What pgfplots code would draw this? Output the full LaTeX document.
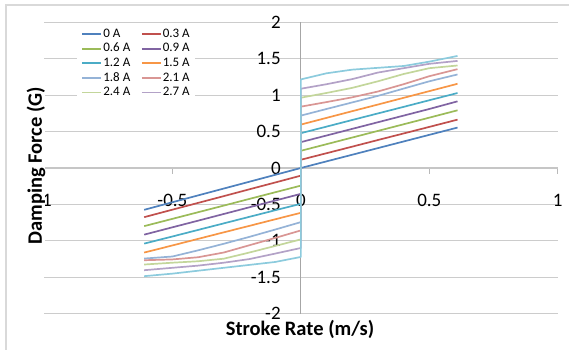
\documentclass[border=0pt]{standalone}
\usepackage{fontspec}
\setmainfont{Carlito}
\usepackage{pgfplots}
\pgfplotsset{compat=1.18}
\definecolor{s1}{HTML}{4F81BD}
\definecolor{s2}{HTML}{C0504D}
\definecolor{s3}{HTML}{9BBB59}
\definecolor{s4}{HTML}{8064A2}
\definecolor{s5}{HTML}{4BACC6}
\definecolor{s6}{HTML}{F79646}
\definecolor{s7}{HTML}{95B3D7}
\definecolor{s8}{HTML}{D99694}
\definecolor{s9}{HTML}{C3D69B}
\definecolor{s10}{HTML}{B3A2C7}
\definecolor{s11}{HTML}{8CCBDD}
\begin{document}
\begin{tikzpicture}
\path[use as bounding box] (0bp,0bp) rectangle (569bp,350bp);
\draw[color=gray!30, line width=1.3bp] (6bp,0bp) -- (6bp,345bp) -- (569bp,345bp);
\begin{axis}[
  at={(44bp,36.3bp)}, anchor=south west,
  scale only axis, width=513.7bp, height=291.4bp,
  xmin=-1, xmax=1, ymin=-2, ymax=2,
  axis lines=middle,
  x axis line style={-, draw=gray!45, line width=1.2bp},
  y axis line style={-, draw=gray!70, line width=1.2bp},
  hide obscured x ticks=false, hide obscured y ticks=false,
  xtick={-1,-0.5,0,0.5,1},
  xticklabels={-1,-0.5,0,0.5,1},
  ytick={-2,-1.5,-1,-0.5,0,0.5,1,1.5,2},
  yticklabels={-2,-1.5,-1,-0.5,0,0.5,1,1.5,2},
  tick align=outside, major tick length=6bp,
  xtick style={draw=gray!55, line width=1bp},
  ytick style={draw=none},
  tick label style={font=\fontsize{19bp}{22bp}\selectfont, inner sep=0pt},
  x tick label style={anchor=center, yshift=-26.7bp},
  y tick label style={anchor=east, xshift=-14bp},
  ymajorgrids,
  grid style={draw=gray!40, line width=1.2bp},
  legend columns=2,
  legend cell align=left,
  legend style={at={(0.064,0.987)}, anchor=north west, draw=none, fill=white,
    font=\fontsize{13bp}{15bp}\selectfont, inner xsep=4.5bp, inner ysep=1bp,
    row sep=1.1bp,
    nodes={inner sep=1bp, text height=9bp, text depth=2.5bp},
    /tikz/every even column/.append style={column sep=9.7bp}},
  legend image code/.code={\draw[#1, line width=1.8bp] (0bp,0bp) -- (19bp,0bp);},
  every axis plot/.append style={line width=1.7bp, line join=round, no markers},
]
\addplot[s1] coordinates {(-0.61,-0.574) (-0.5,-0.47) (-0.4,-0.376) (-0.3,-0.282) (-0.2,-0.188) (-0.1,-0.094) (0,0) (0,0) (0.1,0.091) (0.2,0.182) (0.3,0.273) (0.4,0.364) (0.5,0.455) (0.61,0.555)};
\addlegendentry{0 A}
\addplot[s2] coordinates {(-0.61,-0.675) (-0.5,-0.572) (-0.4,-0.479) (-0.3,-0.386) (-0.2,-0.292) (-0.1,-0.199) (0,-0.105) (0,0.113) (0.1,0.203) (0.2,0.293) (0.3,0.384) (0.4,0.474) (0.5,0.564) (0.61,0.664)};
\addlegendentry{0.3 A}
\addplot[s3] coordinates {(-0.61,-0.798) (-0.5,-0.698) (-0.4,-0.607) (-0.3,-0.516) (-0.2,-0.424) (-0.1,-0.333) (0,-0.242) (0,0.236) (0.1,0.327) (0.2,0.418) (0.3,0.509) (0.4,0.600) (0.5,0.691) (0.61,0.792)};
\addlegendentry{0.6 A}
\addplot[s4] coordinates {(-0.61,-0.915) (-0.5,-0.814) (-0.4,-0.723) (-0.3,-0.631) (-0.2,-0.539) (-0.1,-0.447) (0,-0.355) (0,0.355) (0.1,0.446) (0.2,0.537) (0.3,0.628) (0.4,0.719) (0.5,0.81) (0.61,0.915)};
\addlegendentry{0.9 A}
\addplot[s5] coordinates {(-0.61,-1.038) (-0.5,-0.94) (-0.4,-0.85) (-0.3,-0.76) (-0.2,-0.67) (-0.1,-0.58) (0,-0.492) (0,0.478) (0.1,0.568) (0.2,0.659) (0.3,0.749) (0.4,0.839) (0.5,0.93) (0.61,1.029)};
\addlegendentry{1.2 A}
\addplot[s6] coordinates {(-0.61,-1.161) (-0.5,-1.063) (-0.4,-0.973) (-0.3,-0.883) (-0.2,-0.794) (-0.1,-0.704) (0,-0.615) (0,0.596) (0.1,0.688) (0.2,0.78) (0.3,0.871) (0.4,0.963) (0.5,1.055) (0.61,1.156)};
\addlegendentry{1.5 A}
\addplot[s7] coordinates {(-0.61,-1.243) (-0.5,-1.215) (-0.4,-1.13) (-0.3,-1.04) (-0.2,-0.945) (-0.1,-0.845) (0,-0.743) (0,0.719) (0.1,0.81) (0.2,0.90) (0.3,0.99) (0.4,1.09) (0.5,1.19) (0.61,1.284)};
\addlegendentry{1.8 A}
\addplot[s8] coordinates {(-0.61,-1.266) (-0.5,-1.255) (-0.4,-1.225) (-0.3,-1.16) (-0.2,-1.06) (-0.1,-0.96) (0,-0.857) (0,0.842) (0.1,0.905) (0.2,0.97) (0.3,1.05) (0.4,1.15) (0.5,1.26) (0.61,1.357)};
\addlegendentry{2.1 A}
\addplot[s9] coordinates {(-0.61,-1.325) (-0.5,-1.30) (-0.4,-1.28) (-0.3,-1.245) (-0.2,-1.16) (-0.1,-1.07) (0,-0.98) (0,0.965) (0.1,1.03) (0.2,1.10) (0.3,1.19) (0.4,1.29) (0.5,1.37) (0.61,1.407)};
\addlegendentry{2.4 A}
\addplot[s10] coordinates {(-0.61,-1.403) (-0.5,-1.37) (-0.4,-1.34) (-0.3,-1.30) (-0.2,-1.25) (-0.1,-1.175) (0,-1.098) (0,1.088) (0.1,1.15) (0.2,1.22) (0.3,1.31) (0.4,1.37) (0.5,1.43) (0.61,1.47)};
\addlegendentry{2.7 A}
\addplot[s11, forget plot] coordinates {(-0.61,-1.485) (-0.5,-1.45) (-0.4,-1.41) (-0.3,-1.37) (-0.2,-1.33) (-0.1,-1.29) (0,-1.221) (0,1.216) (0.1,1.30) (0.2,1.35) (0.3,1.375) (0.4,1.40) (0.5,1.46) (0.61,1.538)};
\end{axis}
\node[font=\bfseries\fontsize{20.5bp}{24bp}\selectfont, rotate=90, fill=white, inner sep=0pt] at (36bp,184.5bp) {Damping Force (G)};
\node[font=\bfseries\fontsize{20.5bp}{24bp}\selectfont, inner sep=0pt] at (300bp,21bp) {Stroke Rate (m/s)};
\end{tikzpicture}
\end{document}
